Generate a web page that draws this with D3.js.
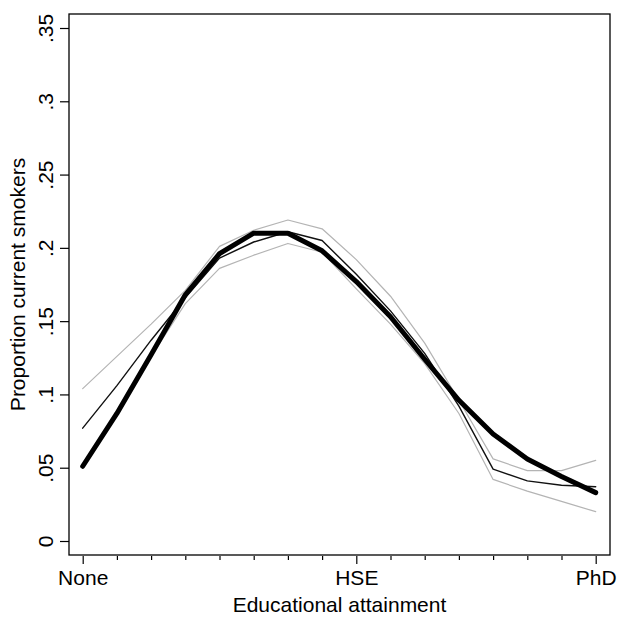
<!DOCTYPE html>
<html>
<head>
<meta charset="utf-8">
<script src="https://cdn.jsdelivr.net/npm/d3@7"></script>
<style>
  body { margin: 0; background: #fff; }
  svg text { font-family: "Liberation Sans", Arial, Helvetica, sans-serif; fill: #000; }
</style>
</head>
<body>
<svg id="chart" width="623" height="622"></svg>
<script>
// Educational attainment steps (0 = None ... 15 = PhD)
const levels = d3.range(0, 16);
const majorTicks = [0, 8, 15];
const majorLabels = ["None", "HSE", "PhD"];
const yTicks = [0, 0.05, 0.1, 0.15, 0.2, 0.25, 0.3, 0.35];
const yTickLabels = ["0", ".05", ".1", ".15", ".2", ".25", ".3", ".35"];

// thick line (smoothed)
const smooth = [0.051, 0.087, 0.127, 0.168, 0.196, 0.210, 0.210, 0.198, 0.177, 0.153, 0.124, 0.096, 0.073, 0.056, 0.044, 0.033];
// thin black line (estimate)
const estimate = [0.077, 0.106, 0.137, 0.166, 0.193, 0.204, 0.211, 0.205, 0.182, 0.157, 0.128, 0.092, 0.049, 0.041, 0.038, 0.037];
// grey bounds
const upper = [0.104, 0.126, 0.148, 0.171, 0.201, 0.212, 0.219, 0.213, 0.192, 0.167, 0.135, 0.096, 0.056, 0.048, 0.048, 0.055];
const lower = [0.050, 0.086, 0.126, 0.162, 0.186, 0.195, 0.203, 0.197, 0.172, 0.148, 0.121, 0.087, 0.042, 0.034, 0.027, 0.020];

const svg = d3.select("#chart");
const frame = {left: 69, right: 610, top: 14, bottom: 555};
const fontSize = "21px";

const x = d3.scaleLinear().domain([0, 15]).range([82.7, 595.7]);
const y = d3.scaleLinear().domain([0, 0.35]).range([541, 28]);

// frame
svg.append("rect")
    .attr("x", frame.left).attr("y", frame.top)
    .attr("width", frame.right - frame.left)
    .attr("height", frame.bottom - frame.top)
    .attr("fill", "none").attr("stroke", "#000").attr("stroke-width", 1.3);

// y axis
const yAxis = d3.axisLeft(y)
    .tickValues(yTicks)
    .tickSize(9)
    .tickPadding(0)
    .tickFormat((d, i) => yTickLabels[i]);
const yg = svg.append("g")
    .attr("transform", `translate(${frame.left},0)`)
    .call(yAxis);
yg.select(".domain").remove();
yg.selectAll(".tick line").attr("stroke", "#000").attr("stroke-width", 1.2);
yg.selectAll(".tick text")
    .attr("x", null).attr("dy", null)
    .attr("text-anchor", "middle")
    .attr("transform", "translate(-16,0) rotate(-90)")
    .style("font-size", fontSize);

// x axis: minor ticks
const xMinor = d3.axisBottom(x)
    .tickValues(levels.filter(d => majorTicks.indexOf(d) === -1))
    .tickSize(4)
    .tickFormat("");
const xmg = svg.append("g")
    .attr("transform", `translate(0,${frame.bottom + 1})`)
    .call(xMinor);
xmg.select(".domain").remove();
xmg.selectAll(".tick line").attr("stroke", "#000").attr("stroke-width", 1.2);

// x axis: labelled ticks
const xMajor = d3.axisBottom(x)
    .tickValues(majorTicks)
    .tickSize(8)
    .tickPadding(6)
    .tickFormat((d, i) => majorLabels[i]);
const xg = svg.append("g")
    .attr("transform", `translate(0,${frame.bottom + 1})`)
    .call(xMajor);
xg.select(".domain").remove();
xg.selectAll(".tick line").attr("stroke", "#000").attr("stroke-width", 1.2);
xg.selectAll(".tick text").style("font-size", fontSize);

// axis titles
svg.append("text")
    .attr("x", (frame.left + frame.right) / 2)
    .attr("y", 612)
    .attr("text-anchor", "middle")
    .style("font-size", fontSize)
    .text("Educational attainment");

svg.append("text")
    .attr("transform", `translate(25,${(frame.top + frame.bottom) / 2}) rotate(-90)`)
    .attr("text-anchor", "middle")
    .style("font-size", fontSize)
    .text("Proportion current smokers");

// lines
const line = d3.line()
    .x((d, i) => x(levels[i]))
    .y(d => y(d));

const series = [
    {values: upper, color: "#b4b4b4", width: 1.2},
    {values: lower, color: "#b4b4b4", width: 1.2},
    {values: estimate, color: "#111", width: 1.4},
    {values: smooth, color: "#000", width: 5}
];

svg.append("g")
    .selectAll("path")
    .data(series)
    .join("path")
        .attr("d", d => line(d.values))
        .attr("fill", "none")
        .attr("stroke", d => d.color)
        .attr("stroke-width", d => d.width)
        .attr("stroke-linejoin", "round")
        .attr("stroke-linecap", "round");
</script>
</body>
</html>
